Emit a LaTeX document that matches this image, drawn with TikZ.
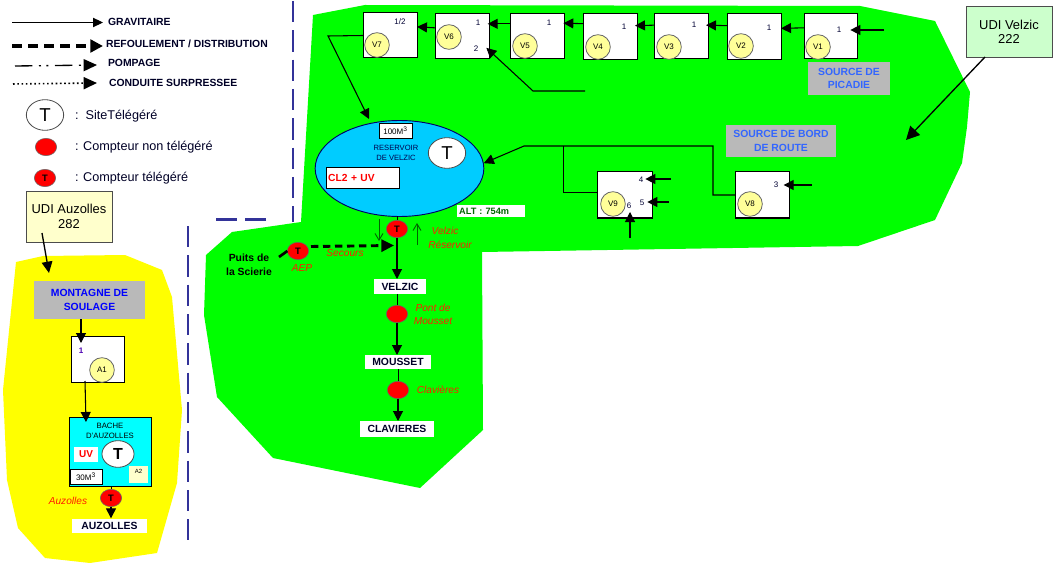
\documentclass[tikz,border=0pt]{standalone}
\usepackage{fontspec}
\setmainfont{Liberation Sans}
\usetikzlibrary{arrows.meta,shapes.geometric,calc}
\definecolor{zone}{RGB}{0,255,0}
\definecolor{zoney}{RGB}{255,255,0}
\definecolor{sep}{RGB}{51,51,153}
\definecolor{resblue}{RGB}{0,204,255}
\definecolor{bache}{RGB}{0,255,255}
\definecolor{pale}{RGB}{255,255,153}
\definecolor{paleb}{RGB}{255,255,204}
\definecolor{paleg}{RGB}{204,255,204}
\definecolor{srcgrey}{RGB}{185,185,185}
\definecolor{srcblue}{RGB}{51,102,255}
\definecolor{dkgreen}{RGB}{0,100,0}
\definecolor{labred}{RGB}{255,30,0}
\newcommand\sz[1]{\fontsize{#1}{#1}\selectfont}
\newcommand\bx[6]{%
  \pgfmathsetmacro\bxx{(#3+#5)/2}\pgfmathsetmacro\bxy{(#4+#6)/2}%
  \pgfmathsetmacro\bxw{(#5-#3)*.75}\pgfmathsetmacro\bxh{(#6-#4)*.75}%
  \node[#1,minimum width=\bxw pt,minimum height=\bxh pt] (#2) at (\bxx,\bxy)}
\tikzset{
  base/.style={inner sep=0pt,outer sep=0pt,align=center},
  vbox/.style={base,draw=black,line width=.75pt,fill=white},
  valve/.style={base,circle,draw=black!60,line width=.6pt,fill=pale,minimum size=18.5pt,font=\sz{6}},
  num/.style={base,font=\sz{6},text=black!80!blue},
  meter/.style={base,ellipse,draw=black!60,line width=.4pt,fill=red,minimum width=16pt,minimum height=13pt,font=\bfseries\sz{7}},
  site/.style={base,ellipse,draw=black!70,line width=.6pt,fill=white,minimum width=28pt,minimum height=23pt,font=\sz{14}},
  town/.style={base,fill=white,font=\bfseries\sz{7.8},text=black!85!blue},
  src/.style={base,fill=srcgrey,font=\bfseries\sz{7.8},text=srcblue},
  udi/.style={base,draw=black!70,line width=.7pt,font=\sz{9.7}},
  lab/.style={base,font=\itshape\sz{7.6},text=labred},
  leg/.style={base,anchor=west,font=\bfseries\sz{7.8},text=black!85!blue},
  legt/.style={base,anchor=west,font=\sz{9.5},text=black!85!blue},
  flow/.style={line width=.8pt,draw=black,-{Triangle[length=7.5pt,width=7.5pt]}},
  thin/.style={line width=.7pt,draw=black},
  push/.style={line width=2.2pt,draw=black,dash pattern=on 5.5pt off 3.5pt,-{Triangle[length=9.5pt,width=9pt]}},
  sepline/.style={line width=1.7pt,draw=sep,dash pattern=on 16pt off 6pt},
  hint/.style={line width=.7pt,draw=dkgreen,-{Straight Barb[length=5pt,width=6pt]}}
}
\begin{document}
\begin{tikzpicture}[x=0.75pt,y=-0.75pt]
\useasboundingbox (0,0) rectangle (1053,563);
% zones
\fill[zone] (313,15) -- (365,5) -- (860,6) -- (935,21) -- (970,92) -- (967,127) -- (962,163) -- (935,220) -- (858,246) -- (482,252) -- (483,430) -- (420,488) -- (273,458) -- (217,397) -- (204,315) -- (206,255) -- (232,232) -- (301,222) -- cycle;
\fill[zoney] (16,262) -- (43,256) -- (125,255) -- (162,270) -- (172,297) -- (182,410) -- (177,483) -- (157,553) -- (90,563) -- (45,558) -- (18,528) -- (7,480) -- (3,390) -- cycle;
% separators
\coordinate (sepa) at (293,1); \coordinate (sepb) at (293,222);
\coordinate (sepc) at (266,219.5); \coordinate (sepd) at (216,219.5);
\coordinate (sepe) at (188,226); \coordinate (sepf) at (188,540);
\draw[sepline] (sepa) -- (sepb);
\draw[sepline] (sepc) -- (sepd);
\draw[sepline] (sepe) -- (sepf);
% legend
\node[leg] (lg1) at (108,22) {GRAVITAIRE};
\node[leg] (lg2) at (106,44) {REFOULEMENT / DISTRIBUTION};
\node[leg] (lg3) at (108,63) {POMPAGE};
\node[leg] (lg4) at (109,83) {CONDUITE SURPRESSEE};
\coordinate (la1) at (12,22.5); \coordinate (la2) at (12,46); \coordinate (la3) at (15,66); \coordinate (la4) at (13,84);
\draw[line width=.7pt,-{Triangle[length=7.5pt,width=7pt]}] (la1) -- ($(lg1.west)+(-5,.5)$);
\draw[line width=2.8pt,dash pattern=on 7.5pt off 4.5pt,-{Triangle[length=9.5pt,width=9.5pt]}] (la2) -- ($(lg2.west)+(-3,2)$);
\draw[line width=1pt,dash pattern=on 13pt off 5pt on 1.5pt off 4pt on 1.5pt off 5pt,-{Triangle[length=10pt,width=9pt]}] (la3) -- ($(lg3.west)+(-11,2)$);
\draw[line width=1.2pt,dotted,-{Triangle[length=10pt,width=9pt]}] (la4) -- ($(lg4.west)+(-12,0)$);
\node[site] (lgs) at (45,115) {T};
\node[meter] (lgm) at (46,147) {};
\node[meter] (lgt) at (45,178) {T};
\node[legt] (lgst) at (75,116) {:\ \ SiteTélégéré};
\node[legt] (lgmt) at (75,147) {: Compteur non télégéré};
\node[legt] (lgtt) at (75,178) {: Compteur télégéré};
% source labels
\bx{src}{spic}{808}{62}{890}{95} {SOURCE DE\\[2.5pt]PICADIE};
\bx{src}{sbord}{726}{125}{836}{157} {SOURCE DE BORD\\[2.5pt]DE ROUTE};
% valve boxes
\bx{vbox}{b7}{363}{13}{417}{58} {};
\bx{vbox}{b6}{435}{14}{489}{59} {};
\bx{vbox}{b5}{510}{14}{564}{59} {};
\bx{vbox}{b4}{583}{14}{637}{60} {};
\bx{vbox}{b3}{654}{14}{708}{59} {};
\bx{vbox}{b2}{727}{14}{781}{60} {};
\bx{vbox}{b1}{804}{14}{857}{59} {};
\bx{vbox}{b9}{597}{172}{652}{218} {};
\bx{vbox}{b8}{735}{172}{789}{218} {};
\node[valve] (v7) at (377,45) {V7};
\node[valve] (v6) at (449,37) {V6};
\node[valve] (v5) at (525,46) {V5};
\node[valve] (v4) at (598,47) {V4};
\node[valve] (v3) at (669,47) {V3};
\node[valve] (v2) at (741,46) {V2};
\node[valve] (v1) at (818,47) {V1};
\node[valve] (v9) at (613,204) {V9};
\node[valve] (v8) at (750,204) {V8};
\node[num] (n7) at (400,22) {1/2};
\node[num] (n61) at (478,23) {1};
\node[num] (n62) at (476,49) {2};
\node[num] (n5) at (549,23) {1};
\node[num] (n4) at (624,27) {1};
\node[num] (n3) at (694,25) {1};
\node[num] (n2) at (769,28) {1};
\node[num] (n1) at (839,30) {1};
\node[num] (n83) at (776,185) {3};
\node[num] (n94) at (641,180) {4};
\node[num] (n95) at (642,203) {5};
\node[num] (n96) at (629,206) {6};
% reservoir
\node[base,ellipse,draw=black!60!blue,line width=.7pt,fill=resblue,minimum width=126.5pt,minimum height=72pt] (res) at (399.5,168.5) {};
\bx{base,draw=black,line width=.6pt,fill=white,font=\sz{6}}{vol}{379}{123}{412}{138} {100M\textsuperscript{3}};
\node[base,font=\sz{5.7},text=black!70!blue] (resl) at (396,153) {RESERVOIR\\[1.5pt]DE VELZIC};
\node[site] (rest) at (447,153) {T};
\bx{base,draw=black,line width=.6pt,fill=white,font=\bfseries\sz{7.7},text=red,text width=54pt,align=left}{cl}{326}{167}{399}{188} {\,CL2 + UV};
\bx{base,fill=white,font=\bfseries\sz{6.9},text=black!60!green,text width=50pt,align=left}{alt}{457}{205}{525}{217} {\,ALT : 754m};
% distribution chain
\node[meter] (m0) at (397,229) {T};
\node[meter] (maep) at (298,251) {T};
\node[meter] (mpont) at (397,314) {};
\node[meter] (mclav) at (398,390) {};
\bx{town}{velzic}{374}{279}{426}{294} {VELZIC};
\bx{town}{mousset}{365}{355}{431}{369} {MOUSSET};
\bx{town}{clavieres}{360}{421}{434}{437} {CLAVIERES};
\node[base,font=\bfseries\sz{7.8}] (puits) at (249,265) {Puits de\\[3pt]la Scierie};
\node[lab] (l1) at (445,231) {Velzic};
\node[lab] (l2) at (450,245) {Réservoir};
\node[lab] (l3) at (345,253) {Secours};
\node[lab] (l4) at (302,268) {AEP};
\node[lab] (l5) at (433,314.5) {Pont de\\[2.5pt]Mousset};
\node[lab] (l6) at (438,390) {Clavières};
% UDI
\bx{udi,fill=paleg}{udiv}{966}{6}{1052}{57} {UDI Velzic\\[1pt]222};
\coordinate (udivt) at (906,140);
\draw[line width=1pt,-{Triangle[length=10pt,width=10pt]}] ($(udiv.south west)+(19,0)$) -- (udivt);
% Auzolles zone
\bx{udi,fill=paleb}{udia}{26}{191}{112}{242} {UDI Auzolles\\[1pt]282};
\bx{base,fill=srcgrey,font=\bfseries\sz{7.8},text=blue}{mont}{34}{281}{145}{319} {MONTAGNE DE\\[2.5pt]SOULAGE};
\bx{vbox}{ba1}{71}{336}{124}{382} {};
\node[base,font=\bfseries\sz{6},text=blue!70!red] (na1) at (81,351) {1};
\node[valve] (a1) at (102,370) {A1};
\bx{base,draw=black,line width=.7pt,fill=bache}{bach}{69}{417}{151}{486} {};
\node[base,font=\sz{5.8}] (bachl) at (110,431) {BACHE\\[2pt]D'AUZOLLES};
\bx{base,fill=white,font=\bfseries\sz{7.5},text=red}{uvb}{74}{447}{98}{462} {UV};
\node[site,minimum width=24pt,minimum height=20pt,font=\bfseries\sz{12}] (bacht) at (118,454) {T};
\bx{base,draw=black,line width=.6pt,fill=white,font=\sz{6}}{volb}{70}{469}{102}{484} {30M\textsuperscript{3}};
\bx{base,fill=paleb,font=\sz{4.5}}{a2}{129}{466}{148}{483} {\raisebox{5pt}{A2}};
\node[meter] (mauz) at (111,498) {T};
\node[lab] (l7) at (68,501) {Auzolles};
\bx{town}{auzolles}{72}{519}{147}{533} {AUZOLLES};
% connectors: main line
\draw[flow] ([yshift=6.5pt]b6.west) -- ([yshift=6.5pt]b7.east);
\draw[flow] ([yshift=9.5pt]b5.west) -- ([yshift=9.5pt,xshift=-1pt]b6.east);
\draw[flow] ([yshift=10pt]b4.west) -- ([yshift=10pt,xshift=-.5pt]b5.east);
\draw[flow] ([yshift=8.5pt]b3.west) -- ([yshift=8.5pt,xshift=-1.5pt]b4.east);
\draw[flow] ([yshift=8.5pt]b2.west) -- ([yshift=8.5pt,xshift=-1.5pt]b3.east);
\draw[flow] ([yshift=6.5pt]b1.west) -- ([yshift=6.5pt]b2.east);
\coordinate (in1) at (884,30);
\coordinate (in2) at (585,91); \coordinate (in2b) at (533,91);
\draw[flow] (in1) -- ([xshift=-5pt]in1-|b1.east);
\draw[flow] (in2) -- (in2b) -- ([xshift=-2pt,yshift=-8.5pt]b6.east);
\coordinate (o7) at (328,36); \coordinate (r7) at (369,119);
\draw[flow] (b7.west) -- (o7) -- (r7);
% source de bord
\coordinate (j1) at (713,146); \coordinate (j2) at (524,146); \coordinate (j3) at (563,146);
\draw[flow] (b8.west) -| (j1) -- (j2) -- ([yshift=4pt]res.east);
\draw[thin] ([yshift=2pt]b9.west) -| (j3);
\coordinate (in8) at (812,185); \coordinate (in94) at (671,179); \coordinate (in95) at (669,202); \coordinate (in96) at (630,238);
\draw[flow] (in8) -- ([xshift=-4pt]in8-|b8.east);
\draw[flow] (in94) -- ([xshift=-5pt]in94-|b9.east);
\draw[flow] (in95) -- ([xshift=-3.5pt]in95-|b9.east);
\draw[flow] (in96) -- ([yshift=4.5pt]in96|-b9.south);
% town line
\draw[thin] (res.south-|m0) -- (m0.north);
\draw[flow] (m0.south) -- (velzic.north-|m0);
\draw[thin] (velzic.south-|mpont) -- (mpont.north);
\draw[flow] (mpont.south) -- (mousset.north-|mpont);
\draw[thin] (mousset.south-|mclav) -- (mclav.north);
\draw[flow] (mclav.south) -- (clavieres.north-|mclav);
\coordinate (pa) at (279,257); \coordinate (pb) at (311,246.5); \coordinate (pc) at (394,245.5);
\draw[line width=2pt,draw=black] (pa) -- (maep.west);
\draw[push] (pb) -- (pc);
\coordinate (h1a) at (379,219); \coordinate (h1b) at (379,241); \coordinate (h2a) at (417,245); \coordinate (h2b) at (417,223);
\draw[hint] (h1a) -- (h1b);
\draw[hint] (h2a) -- (h2b);
% Auzolles connectors
\coordinate (ta) at (49,273);
\draw[line width=1pt,-{Triangle[length=8.5pt,width=8pt]}] ($(udia.south west)+(16,-9)$) -- (ta);
\draw[flow] ($(mont.south west)+(47,0)$) -- ($(ba1.north west)+(10,7)$);
\draw[flow] ($(ba1.south west)+(14,-1)$) -- ($(bach.north west)+(17,5)$);
\draw[thin] (bach.south-|mauz) -- (mauz.north);
\draw[flow] (mauz.south) -- ([yshift=.5pt]auzolles.north-|mauz);
\end{tikzpicture}
\end{document}
